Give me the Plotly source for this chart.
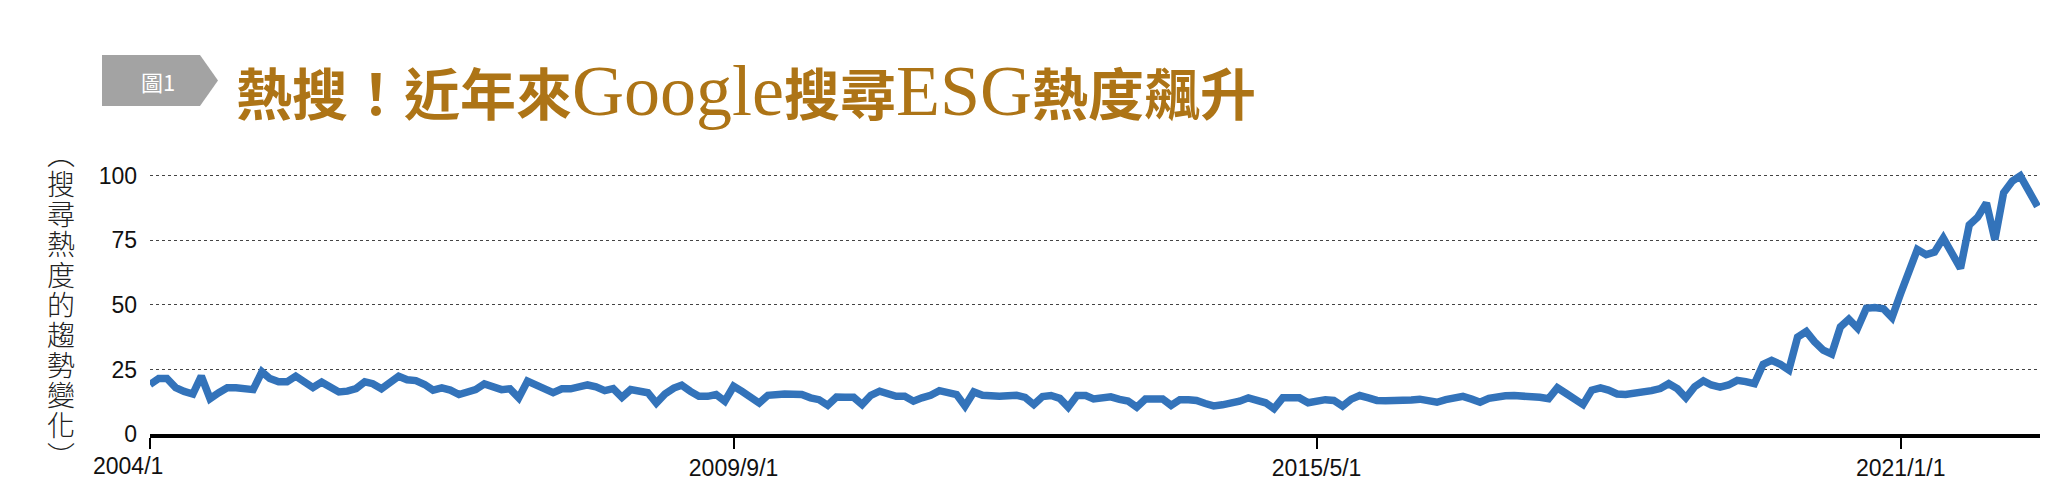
import pandas as pd
import plotly.graph_objects as go

# ---- data (monthly search interest) ----
vals_2004_2007 = [19.2, 21.5, 21.5, 18, 16.5, 15.5, 22.4, 13.7, 16, 17.9, 17.9, 17.5,
                  17.2, 24.1, 21.5, 20.2, 20.2, 22.4, 19.8, 18, 20.1, 18, 16.3, 16.6,
                  17.6, 20.2, 19.5, 17.5, 19.5, 22.4, 21, 20.7, 19.2, 17, 17.9, 17,
                  15.3, 16.3, 17.2, 19.4, 18, 17.2, 17.5, 14, 20.5, 19.3, 17.5, 16]
vals_2008_2011 = [17.5, 17.5, 18.5, 19, 18.3, 16.8, 17.6, 14.2, 17.2, 16.5, 16, 12,
                  15.5, 17.8, 18.9, 16.5, 14.6, 14.6, 15.3, 12.7, 18.5, 16.5, 14.6, 12,
                  15, 15.5, 15.5, 15.4, 15.3, 14, 13.3, 11.1, 14.3, 14.2, 14.2, 11.4,
                  15, 16.6, 15.3, 14.6, 14.6, 12.7, 14, 15, 16.8, 16, 15.3, 10.8]
vals_2012_2015 = [16.3, 15, 14.6, 14.6, 14.8, 15, 14.2, 11.4, 14.5, 14.9, 13.8, 10.4,
                  14.9, 14.9, 13.6, 13.8, 14.4, 13.4, 12.8, 10.4, 13.6, 13.6, 13.6, 11.1,
                  13.3, 13.3, 13, 11.8, 10.9, 11.3, 11.8, 12.7, 14, 12.7, 12.1, 9.8,
                  14, 14, 14, 12.1, 12.6, 13.3, 13, 10.8, 13.5, 14.9, 14, 13]
vals_2016_2019 = [12.9, 12.8, 12.7, 13.2, 13.5, 12.9, 12.3, 13.3, 14.3, 14.6, 13.5, 12.3,
                  13.8, 14.6, 14.8, 14.9, 14.9, 14.9, 14.2, 13.7, 17.9, 15.8, 13.6, 11.4,
                  17, 17.9, 17, 15.5, 15.3, 15.6, 16, 16.8, 17.6, 19.5, 17.5, 14,
                  18.3, 20.6, 19, 18.2, 19, 20.8, 20.3, 19.5, 27, 28.5, 27, 24.8]
vals_2020_2022 = [37.5, 39.7, 35.8, 32.5, 31, 41.5, 44.5, 41, 48.7, 49, 48.5, 45.1,
                  54.5, 64, 71.5, 69.5, 70.5, 75.9, 70.7, 64.2, 81, 84, 89.5, 75.3,
                  93.5, 98, 100, 94, 88.2]

values = vals_2004_2007 + vals_2008_2011 + vals_2012_2015 + vals_2016_2019 + vals_2020_2022
dates = pd.date_range("2004-01-01", periods=len(values), freq="MS")

x_tickvals = ["2004-01-01", "2009-09-01", "2015-05-01", "2021-01-01"]
x_ticktext = ["2004/1", "2009/9/1", "2015/5/1", "2021/1/1"]
y_tickvals = [0, 25, 50, 75, 100]

title_parts = [("熱搜！近年來", "cjk"), ("Google", "latin"), ("搜尋", "cjk"),
               ("ESG", "latin"), ("熱度飆升", "cjk")]
badge_text = "圖1"
ytitle_chars = ["︵", "搜", "尋", "熱", "度", "的", "趨", "勢", "變", "化", "︶"]

# ---- layout geometry ----
W, H = 2071, 503
ML, MR, MT, MB = 150, 31, 163, 69


def px(x):
    return (x - ML) / (W - ML - MR)


def py(y):
    return (H - MB - y) / (H - MT - MB)


fig = go.Figure()
fig.add_trace(go.Scatter(
    x=dates, y=values, mode="lines",
    line=dict(color="#3373BA", width=7.5),
    hoverinfo="skip", showlegend=False,
))

tick_font = dict(family="Liberation Sans, Arial, sans-serif", size=23, color="#111111")

fig.update_xaxes(
    type="date",
    range=["2004-01-01", "2022-05-10"],
    tickvals=x_tickvals,
    ticktext=[""] + x_ticktext[1:],
    ticks="outside", ticklen=11, tickwidth=2, tickcolor="black",
    showline=True, linecolor="black", linewidth=3.5,
    showgrid=False, zeroline=False, automargin=False,
    tickfont=tick_font,
)
fig.update_yaxes(
    range=[0, 105],
    tickvals=y_tickvals,
    showgrid=True, gridcolor="#444444", griddash="dot", gridwidth=1,
    zeroline=False, showline=False, ticks="", automargin=False,
    ticklabelstandoff=12,
    tickfont=tick_font,
)

title_html = ""
for txt, kind in title_parts:
    if kind == "cjk":
        title_html += "<b>" + txt + "</b>"
    else:
        title_html += ('<span style="font-family:Liberation Serif, serif;'
                       'font-size:72px;font-weight:normal">' + txt + "</span>")

# vertical axis title: one glyph per line, line pitch set by the base font size
ytitle_html = "<br>".join('<span style="font-size:28px">' + c + "</span>" for c in ytitle_chars)

annotations = []
annotations.append(dict(
    text=x_ticktext[0], x=px(128), y=py(466), xref="paper", yref="paper",
    xanchor="center", yanchor="middle", showarrow=False, font=tick_font,
))
annotations.append(dict(
    text=title_html, x=px(234), y=py(90), xref="paper", yref="paper",
    xanchor="left", yanchor="middle", showarrow=False,
    font=dict(family="Noto Sans CJK TC, sans-serif", size=56, color="#AD7416"),
))
annotations.append(dict(
    text=badge_text, x=px(158), y=py(81), xref="paper", yref="paper",
    xanchor="center", yanchor="middle", showarrow=False,
    font=dict(family="Noto Sans CJK TC, sans-serif", size=22, color="white"),
))
annotations.append(dict(
    text=ytitle_html, x=px(61), y=py(304), xref="paper", yref="paper",
    xanchor="center", yanchor="middle", showarrow=False, align="center",
    font=dict(family="Noto Sans CJK TC Light, Noto Sans CJK TC, sans-serif",
              size=23.2, color="#222222", weight=300),
))

badge_pts = [(102, 55), (200, 55), (218, 80.5), (200, 106), (102, 106)]
path = "M " + " L ".join(f"{px(a):.5f},{py(b):.5f}" for a, b in badge_pts) + " Z"
shapes = [dict(type="path", path=path, xref="paper", yref="paper",
               fillcolor="#A3A3A3", line=dict(width=0), layer="above")]

fig.update_layout(
    width=W, height=H,
    margin=dict(l=ML, r=MR, t=MT, b=MB, pad=0, autoexpand=False),
    paper_bgcolor="white", plot_bgcolor="white",
    annotations=annotations, shapes=shapes,
    showlegend=False,
)

fig.write_html("out.html", config={"displayModeBar": False},
               post_script="document.body.style.margin='0';")
